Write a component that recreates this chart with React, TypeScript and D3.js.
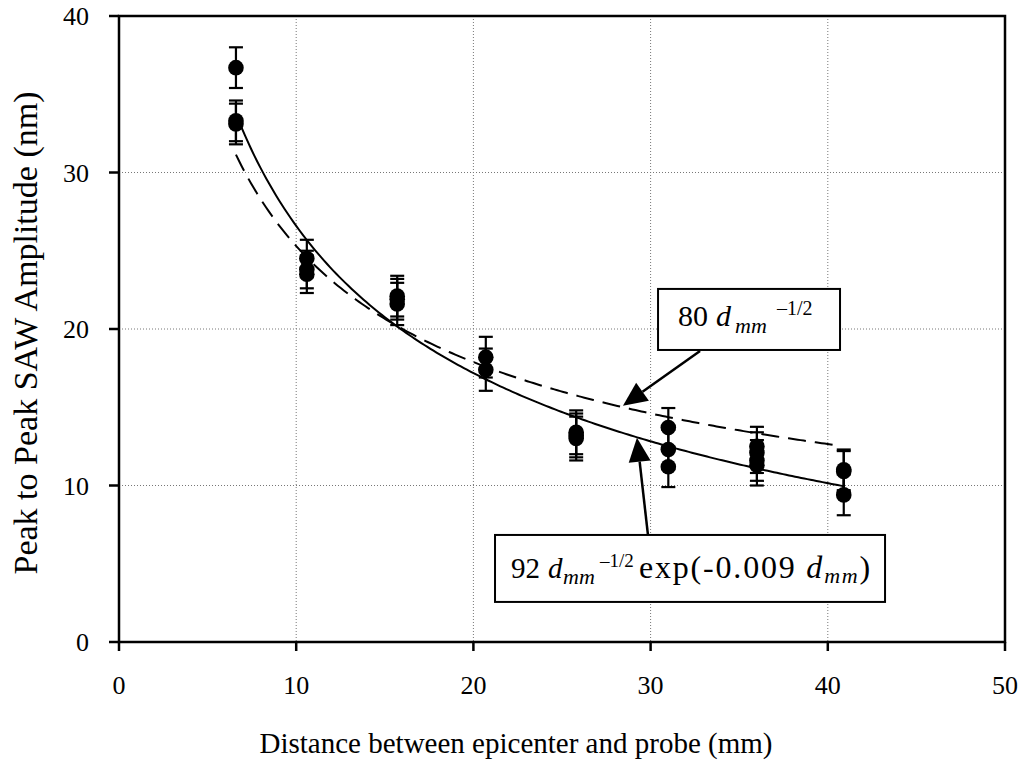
import React from "react";
import * as d3 from "d3";

// Probe distances (mm) and measured peak-to-peak amplitudes (nm) with their error half-widths
const groupDistance = [6.6, 10.6, 15.7, 20.7, 25.8, 31.0, 36.0, 40.9];
const groupAmplitudes = [
  [36.7, 33.3, 33.1],
  [24.5, 23.8, 23.5],
  [22.1, 21.9, 21.6],
  [18.2, 17.4],
  [13.4, 13.2, 13.0],
  [13.7, 12.3, 11.2],
  [12.5, 12.1, 11.6, 11.3],
  [11.0, 10.9, 9.4],
];
const groupErrors = [
  [1.3, 1.3, 1.3],
  [1.2, 1.2, 1.2],
  [1.3, 1.3, 1.35],
  [1.3, 1.35],
  [1.4, 1.4, 1.4],
  [1.25, 1.25, 1.3],
  [1.25, 1.3, 1.3, 1.3],
  [1.3, 1.3, 1.3],
];

// Fitted models
const powerCoef = 80;
const expCoef = 92;
const expRate = 0.009;
const powerRange = [6.6, 40.5];
const expRange = [6.6, 40.9];

const xTicks = [0, 10, 20, 30, 40, 50];
const yTicks = [0, 10, 20, 30, 40];

const xTitle = "Distance between epicenter and probe (mm)";
const yTitle = "Peak to Peak SAW Amplitude (nm)";

const W = 1026;
const H = 761;
const left = 119;
const right = 1005;
const top = 16;
const bottom = 642;

const FONT = "Liberation Serif, Times New Roman, serif";

export default function App() {
  const x = d3.scaleLinear().domain([0, 50]).range([left, right]);
  const y = d3.scaleLinear().domain([0, 40]).range([bottom, top]);

  const sample = (r: number[], f: (d: number) => number) =>
    d3.range(0, 201).map((i) => {
      const d = r[0] + ((r[1] - r[0]) * i) / 200;
      return [d, f(d)] as [number, number];
    });
  const line = d3
    .line<[number, number]>()
    .x((p) => x(p[0]))
    .y((p) => y(p[1]));

  const powerPath = line(sample(powerRange, (d) => powerCoef / Math.sqrt(d))) || "";
  const expPath =
    line(sample(expRange, (d) => (expCoef / Math.sqrt(d)) * Math.exp(-expRate * d))) || "";

  const points: { d: number; a: number; e: number }[] = [];
  groupDistance.forEach((d, i) =>
    groupAmplitudes[i].forEach((a, j) => points.push({ d, a, e: groupErrors[i][j] }))
  );

  // Annotation callouts in data units
  const box1 = { x0: 30.42, x1: 40.69, y0: 22.56, y1: 18.66 };
  const arrow1 = { from: [32.79, 18.6], to: [28.44, 15.1] };
  const box2 = { x0: 21.22, x1: 43.23, y0: 6.84, y1: 2.56 };
  const arrow2 = { from: [29.85, 6.84], to: [29.23, 13.05] };

  const arrowHead = (from: number[], to: number[]) => {
    const fx = x(from[0]);
    const fy = y(from[1]);
    const tx = x(to[0]);
    const ty = y(to[1]);
    const ang = Math.atan2(ty - fy, tx - fx);
    const len = 24;
    const hw = 11;
    const bx = tx - len * Math.cos(ang);
    const by = ty - len * Math.sin(ang);
    const nx = -Math.sin(ang);
    const ny = Math.cos(ang);
    return {
      shaft: `M${fx},${fy}L${bx},${by}`,
      head: `M${tx},${ty}L${bx + hw * nx},${by + hw * ny}L${bx - hw * nx},${by - hw * ny}Z`,
    };
  };
  const a1 = arrowHead(arrow1.from, arrow1.to);
  const a2 = arrowHead(arrow2.from, arrow2.to);

  const txt = { fontFamily: FONT, fill: "#000" };
  const b1x = x(box1.x0);
  const b2x = x(box2.x0);

  return (
    <svg
      width={W}
      height={H}
      style={{ position: "absolute", left: 0, top: 0, background: "#fff", fontFamily: FONT }}
    >
      <rect width={W} height={H} fill="#fff" />
      {/* dotted grid */}
      {xTicks
        .filter((t) => t > 0 && t < 50)
        .map((t) => (
          <line
            key={"gx" + t}
            x1={x(t)}
            x2={x(t)}
            y1={top}
            y2={bottom}
            stroke="#777"
            strokeWidth={1}
            strokeDasharray="1,2"
          />
        ))}
      {yTicks
        .filter((t) => t > 0 && t < 40)
        .map((t) => (
          <line
            key={"gy" + t}
            x1={left}
            x2={right}
            y1={y(t)}
            y2={y(t)}
            stroke="#777"
            strokeWidth={1}
            strokeDasharray="1,2"
          />
        ))}

      {/* frame */}
      <rect x={left} y={top} width={right - left} height={bottom - top} fill="none" stroke="#000" strokeWidth={2.5} />

      {/* ticks */}
      {yTicks.map((t) => (
        <g key={"ty" + t}>
          <line x1={left - 10} x2={left} y1={y(t)} y2={y(t)} stroke="#000" strokeWidth={2.5} />
          <text x={left - 30} y={y(t) + 9} fontSize={26} textAnchor="end" style={txt}>
            {t}
          </text>
        </g>
      ))}
      {xTicks.map((t) => (
        <g key={"tx" + t}>
          <line x1={x(t)} x2={x(t)} y1={bottom} y2={bottom + 9} stroke="#000" strokeWidth={2.5} />
          <text x={x(t)} y={694} fontSize={26} textAnchor="middle" style={txt}>
            {t}
          </text>
        </g>
      ))}

      {/* axis titles */}
      <text x={516} y={753} fontSize={29} textAnchor="middle" style={txt}>
        {xTitle}
      </text>
      <text transform="translate(37,333) rotate(-90)" fontSize={34} textAnchor="middle" style={txt}>
        {yTitle}
      </text>

      {/* model curves */}
      <path d={powerPath} fill="none" stroke="#000" strokeWidth={2} strokeDasharray="18,9" />
      <path d={expPath} fill="none" stroke="#000" strokeWidth={2} />

      {/* measurements with error bars */}
      {points.map((p, i) => (
        <g key={"p" + i}>
          <line x1={x(p.d)} x2={x(p.d)} y1={y(p.a + p.e)} y2={y(p.a - p.e)} stroke="#000" strokeWidth={2.2} />
          <line x1={x(p.d) - 7} x2={x(p.d) + 7} y1={y(p.a + p.e)} y2={y(p.a + p.e)} stroke="#000" strokeWidth={2.2} />
          <line x1={x(p.d) - 7} x2={x(p.d) + 7} y1={y(p.a - p.e)} y2={y(p.a - p.e)} stroke="#000" strokeWidth={2.2} />
          <circle cx={x(p.d)} cy={y(p.a)} r={7.8} fill="#000" />
        </g>
      ))}

      {/* callout for the power law */}
      <rect
        x={b1x}
        y={y(box1.y0)}
        width={x(box1.x1) - b1x}
        height={y(box1.y1) - y(box1.y0)}
        fill="#fff"
        stroke="#000"
        strokeWidth={2}
      />
      <text y={326} fontSize={30} style={txt}>
        <tspan x={b1x + 20}>80</tspan>
        <tspan x={b1x + 58} fontStyle="italic">d</tspan>
        <tspan x={b1x + 77} fontStyle="italic" fontSize={22} dy={7}>
          mm
        </tspan>
        <tspan x={b1x + 119} fontSize={20} dy={-18}>
          –1/2
        </tspan>
      </text>
      <path d={a1.shaft} stroke="#000" strokeWidth={2.5} fill="none" />
      <path d={a1.head} fill="#000" />

      {/* callout for the attenuated law */}
      <rect
        x={b2x}
        y={y(box2.y0)}
        width={x(box2.x1) - b2x}
        height={y(box2.y1) - y(box2.y0)}
        fill="#fff"
        stroke="#000"
        strokeWidth={2}
      />
      <text y={578} fontSize={29} style={txt}>
        <tspan x={b2x + 16}>92</tspan>
        <tspan x={b2x + 53} fontStyle="italic">d</tspan>
        <tspan x={b2x + 68} fontStyle="italic" fontSize={22} dy={6}>
          mm
        </tspan>
        <tspan x={b2x + 105} fontSize={19} dy={-17}>
          –1/2
        </tspan>
      </text>
      <text x={b2x + 144} y={578} fontSize={32} letterSpacing={1.8} style={txt}>
        exp(-0.009 <tspan fontStyle="italic">d</tspan>
        <tspan fontStyle="italic" fontSize={22} dy={5}>
          mm
        </tspan>
        <tspan dy={-5}>)</tspan>
      </text>
      <path d={a2.shaft} stroke="#000" strokeWidth={2.5} fill="none" />
      <path d={a2.head} fill="#000" />
    </svg>
  );
}
